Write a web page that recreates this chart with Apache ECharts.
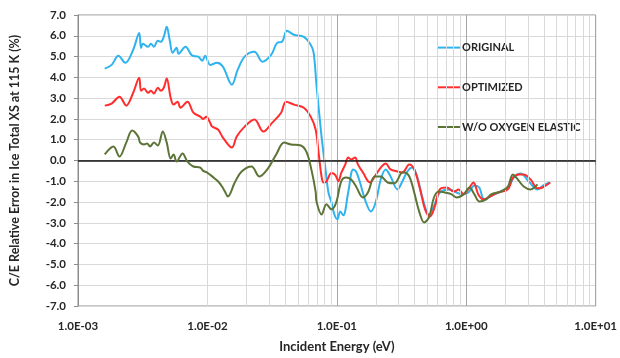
<!DOCTYPE html>
<html>
<head>
<meta charset="utf-8">
<script src="https://cdn.jsdelivr.net/npm/echarts@6/dist/echarts.min.js"></script>
<style>
html, body { margin: 0; padding: 0; background: #fff; }
#main { width: 620px; height: 358px; }
</style>
</head>
<body>
<div id="main"></div>
<script>
// [energy (eV), C/E relative error (%)]
var original = [
  [0.00161,4.42],[0.00182,4.6],[0.00205,5.04],[0.00232,4.7],[0.00267,5.33],[0.00297,6.14],
  [0.00307,5.42],[0.00318,5.62],[0.00348,5.47],[0.00366,5.62],[0.00386,5.47],[0.00414,5.76],
  [0.00437,5.71],[0.0046,5.95],[0.00485,6.43],[0.00511,5.8],[0.00539,5.18],[0.00578,5.42],
  [0.00599,5.14],[0.00677,5.47],[0.00765,5.04],[0.0085,5.0],[0.00912,4.8],[0.00961,5.04],
  [0.0105,4.6],[0.01187,4.7],[0.01318,4.51],[0.01544,3.65],[0.01715,4.37],[0.0194,5.0],
  [0.02311,5.23],[0.02659,4.75],[0.03114,5.09],[0.0346,5.66],[0.03776,5.71],[0.04124,6.24],
  [0.04662,6.05],[0.05557,5.95],[0.06283,5.57],[0.06622,5.18],[0.0698,3.55],[0.07621,1.15],
  [0.08174,-0.43],[0.08614,-1.54],[0.09081,-2.0],[0.09573,-2.6],[0.1009,-2.83],[0.1063,-2.45],
  [0.1121,-2.64],[0.1224,-1.54],[0.1336,-0.43],[0.1408,-0.53],[0.1511,-1.06],[0.1649,-1.87],
  [0.1832,-2.45],[0.2,-2.0],[0.2183,-0.91],[0.2384,-0.43],[0.2602,-0.77],[0.2942,-1.39],
  [0.3212,-1.0],[0.3506,-0.53],[0.3827,-0.34],[0.4178,-0.77],[0.456,-1.73],[0.5157,-2.6],
  [0.5629,-2.2],[0.6254,-1.54],[0.7455,-1.39],[0.8427,-1.54],[0.9202,-1.63],[1.04,-1.54],
  [1.156,-1.2],[1.262,-1.3],[1.377,-1.87],[1.641,-1.63],[2.099,-1.3],[2.332,-0.82],
  [2.636,-0.62],[3.034,-1.0],[3.553,-1.39],[3.948,-1.2],[4.385,-1.06]
];
var optimized = [
  [0.00161,2.64],[0.00182,2.74],[0.00209,3.07],[0.00236,2.64],[0.00267,3.26],[0.00297,3.98],
  [0.00307,3.36],[0.00324,3.46],[0.00348,3.26],[0.00366,3.36],[0.00386,3.22],[0.00414,3.5],
  [0.00437,3.36],[0.0046,3.5],[0.00485,3.94],[0.0052,3.02],[0.00548,2.69],[0.00588,2.83],
  [0.0062,2.54],[0.00701,2.83],[0.00779,2.3],[0.00881,2.11],[0.00928,2.0],[0.00978,2.1],
  [0.0105,1.82],[0.01087,1.63],[0.01207,1.49],[0.01318,1.1],[0.01544,0.62],[0.01685,1.15],
  [0.0194,1.63],[0.02311,1.97],[0.02706,1.39],[0.0317,1.82],[0.03711,2.3],[0.04052,2.83],
  [0.04662,2.69],[0.05557,2.54],[0.06283,2.11],[0.06858,1.49],[0.07228,0.38],[0.07621,-0.77],
  [0.07893,-1.06],[0.08318,-1.0],[0.09081,-0.6],[0.0974,-0.7],[0.1027,-1.0],[0.1082,-0.6],
  [0.1161,-0.2],[0.1224,0.14],[0.129,0.05],[0.1384,0.14],[0.1458,-0.2],[0.1592,-0.58],
  [0.18,-1.06],[0.1965,-0.77],[0.2183,-0.34],[0.2384,-0.14],[0.2602,-0.43],[0.2942,-0.53],
  [0.3212,-0.58],[0.3631,-0.19],[0.3963,-0.43],[0.4403,-1.39],[0.4807,-2.35],[0.5248,-2.69],
  [0.5728,-2.2],[0.6254,-1.39],[0.7072,-1.3],[0.7994,-1.49],[0.873,-1.4],[0.9528,-1.63],
  [1.059,-1.3],[1.136,-1.06],[1.24,-1.63],[1.353,-1.87],[1.477,-1.78],[1.761,-1.54],
  [2.099,-1.39],[2.291,-0.82],[2.545,-0.67],[2.778,-0.67],[3.141,-0.91],[3.553,-1.34],
  [3.879,-1.3],[4.462,-1.06]
];
var noOxygenElastic = [
  [0.00161,0.29],[0.00188,0.67],[0.00209,0.19],[0.00236,0.86],[0.00262,1.44],[0.00292,1.15],
  [0.00302,0.86],[0.00324,0.77],[0.00342,0.82],[0.0036,0.67],[0.00386,0.86],[0.00414,0.72],
  [0.00452,1.39],[0.00485,0.86],[0.0052,0.1],[0.00548,0.29],[0.00578,-0.05],[0.00642,0.34],
  [0.00701,-0.05],[0.00779,-0.29],[0.00881,-0.34],[0.00928,-0.5],[0.00996,-0.58],[0.01106,-0.8],
  [0.01207,-1.0],[0.01296,-1.25],[0.01365,-1.49],[0.01439,-1.73],[0.01627,-1.06],[0.0184,-0.53],
  [0.02193,-0.29],[0.02523,-0.77],[0.02903,-0.43],[0.034,0.29],[0.03911,0.86],[0.04423,0.77],
  [0.05272,0.72],[0.05857,0.38],[0.06394,-0.5],[0.06858,-1.5],[0.0698,-2.0],[0.07621,-2.6],
  [0.08318,-2.1],[0.09081,-2.35],[0.09913,-2.0],[0.1082,-1.0],[0.1181,-0.82],[0.129,-0.91],
  [0.1408,-1.25],[0.1592,-1.78],[0.1738,-1.54],[0.1965,-0.77],[0.2183,-0.77],[0.2469,-1.06],
  [0.2791,-1.1],[0.3212,-0.58],[0.3326,-0.58],[0.3631,-0.77],[0.3963,-1.54],[0.4327,-2.45],
  [0.4724,-2.98],[0.5157,-2.74],[0.5629,-1.78],[0.6145,-1.49],[0.6829,-1.54],[0.7718,-1.63],
  [0.8427,-1.78],[0.9528,-1.63],[1.059,-1.3],[1.156,-1.63],[1.262,-1.97],[1.427,-1.87],
  [1.557,-1.63],[1.856,-1.49],[2.099,-1.25],[2.291,-0.67],[2.501,-0.91],[2.778,-1.25],
  [3.141,-1.39],[3.553,-1.15]
];
// minor log grid lines (2..9 in each decade)
var minorTicks = [
  0.002,0.003,0.004,0.005,0.006,0.007,0.008,0.009,
  0.02,0.03,0.04,0.05,0.06,0.07,0.08,0.09,
  0.2,0.3,0.4,0.5,0.6,0.7,0.8,0.9,
  2,3,4,5,6,7,8,9
];

var font = 'Lato';

function expLabel(v) {
  var e = Math.round(Math.log10(v));
  var a = Math.abs(e);
  return '1.0E' + (e < 0 ? '-' : '+') + (a < 10 ? '0' : '') + a;
}

var chart = echarts.init(document.getElementById('main'));

var option = {
  animation: false,
  textStyle: { fontFamily: font },
  grid: { left: 71, right: 24, top: 15, bottom: 51, show: true, borderColor: '#8c8c8c', borderWidth: 1 },
  legend: {
    data: ['ORIGINAL', 'OPTIMIZED', 'W/O OXYGEN ELASTIC'],
    orient: 'vertical',
    left: 432,
    top: 37,
    itemWidth: 22,
    itemHeight: 14,
    itemGap: 28.5,
    itemStyle: { opacity: 0 },
    textStyle: { fontFamily: font, fontWeight: 'bold', fontSize: 11, color: '#262626', padding: [0, 0, 0, -3] }
  },
  xAxis: {
    type: 'log',
    logBase: 10,
    min: 0.001,
    max: 10,
    name: 'Incident Energy (eV)',
    nameLocation: 'middle',
    nameGap: 34,
    nameTextStyle: { fontFamily: font, fontWeight: 'bold', fontSize: 13, color: '#262626' },
    axisLine: { lineStyle: { color: '#8c8c8c' } },
    axisTick: { show: true, length: 4, lineStyle: { color: '#8c8c8c' } },
    axisLabel: { formatter: expLabel, fontFamily: font, fontWeight: 'bold', fontSize: 11.5, color: '#262626', margin: 14 },
    splitLine: { show: true, lineStyle: { color: '#a6a6a6', width: 1 } }
  },
  yAxis: {
    type: 'value',
    min: -7,
    max: 7,
    interval: 1,
    name: 'C/E Relative Error in Ice Total XS at 115 K (%)',
    nameLocation: 'middle',
    nameGap: 57,
    nameTextStyle: { fontFamily: font, fontWeight: 'bold', fontSize: 12.5, color: '#262626' },
    axisLine: { show: true, lineStyle: { color: '#8c8c8c' } },
    axisTick: { show: true, length: 4, lineStyle: { color: '#8c8c8c' } },
    axisLabel: { formatter: function (v) { return v.toFixed(1); }, fontFamily: font, fontWeight: 'bold', fontSize: 11.5, color: '#262626', margin: 12 },
    splitLine: { show: true, lineStyle: { color: '#d9d9d9', width: 1 } }
  },
  series: [
    {
      name: 'grid',
      type: 'line',
      data: [],
      z: 1,
      silent: true,
      markLine: {
        silent: true,
        symbol: 'none',
        label: { show: false },
        lineStyle: { color: '#d9d9d9', width: 1, type: 'solid' },
        data: minorTicks.map(function (t) { return { xAxis: t }; })
      }
    },
    {
      name: 'ORIGINAL',
      type: 'line',
      data: original,
      smooth: 0.35,
      symbol: 'none',
      z: 3,
      itemStyle: { color: '#2fb3ef' },
      lineStyle: { color: '#2fb3ef', width: 2 }
    },
    {
      name: 'OPTIMIZED',
      type: 'line',
      data: optimized,
      smooth: 0.35,
      symbol: 'none',
      z: 4,
      itemStyle: { color: '#ff2d2d' },
      lineStyle: { color: '#ff2d2d', width: 2 }
    },
    {
      name: 'W/O OXYGEN ELASTIC',
      type: 'line',
      data: noOxygenElastic,
      smooth: 0.35,
      symbol: 'none',
      z: 5,
      itemStyle: { color: '#5c7438' },
      lineStyle: { color: '#5c7438', width: 2 },
      markLine: {
        silent: true,
        symbol: 'none',
        label: { show: false },
        lineStyle: { color: '#1a1a1a', width: 1.6, type: 'solid' },
        data: [{ yAxis: 0 }]
      }
    }
  ]
};

chart.setOption(option);
</script>
</body>
</html>
